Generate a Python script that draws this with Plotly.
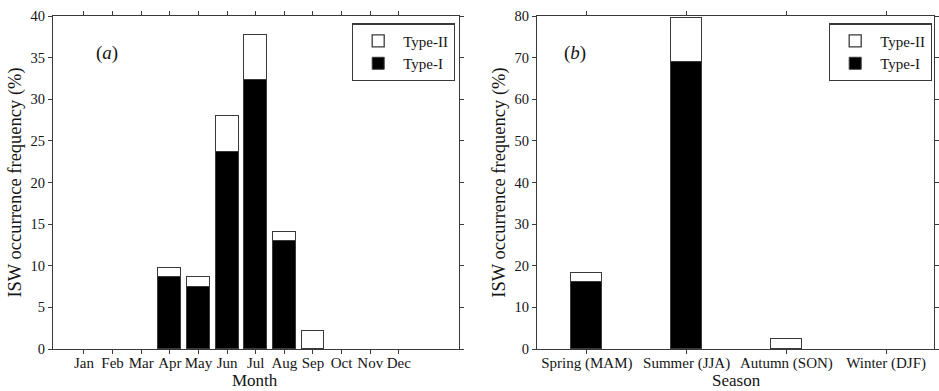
import plotly.graph_objects as go

months = ["Jan", "Feb", "Mar", "Apr", "May", "Jun", "Jul", "Aug", "Sep", "Oct", "Nov", "Dec"]
month_type1 = [0, 0, 0, 8.7, 7.5, 23.7, 32.3, 13.0, 0, 0, 0, 0]
month_type2 = [0, 0, 0, 1.0, 1.2, 4.3, 5.4, 1.0, 2.2, 0, 0, 0]

seasons = ["Spring (MAM)", "Summer (JJA)", "Autumn (SON)", "Winter (DJF)"]
season_type1 = [16.2, 69.0, 0, 0]
season_type2 = [2.1, 10.6, 2.3, 0]

FONT = "Liberation Serif"
LINE = "#3a3a3a"
TXT = "#151515"

mx = list(range(1, len(months) + 1))
sx = list(range(len(seasons)))


def nz(vals):
    # zero-height bars are not drawn in the reference
    return [v if v else None for v in vals]


fig = go.Figure()
fig.add_trace(go.Bar(x=mx, y=nz(month_type1), name="Type-I",
                     marker=dict(color="black", line=dict(color=LINE, width=1)),
                     width=0.8, xaxis="x", yaxis="y", legend="legend", legendrank=2))
fig.add_trace(go.Bar(x=mx, y=nz(month_type2), name="Type-II",
                     marker=dict(color="white", line=dict(color=LINE, width=1.3)),
                     width=0.8, xaxis="x", yaxis="y", legend="legend", legendrank=1))
fig.add_trace(go.Bar(x=sx, y=nz(season_type1), name="Type-I",
                     marker=dict(color="black", line=dict(color=LINE, width=1)),
                     width=0.31, xaxis="x2", yaxis="y2", legend="legend2", legendrank=2))
fig.add_trace(go.Bar(x=sx, y=nz(season_type2), name="Type-II",
                     marker=dict(color="white", line=dict(color=LINE, width=1.3)),
                     width=0.31, xaxis="x2", yaxis="y2", legend="legend2", legendrank=1))

W, H = 939, 391
axis_common = dict(showline=True, linecolor=LINE, linewidth=1.2, mirror="ticks", ticks="outside",
                   ticklen=4, tickcolor=LINE, showgrid=False, zeroline=False, automargin=False)
xtf = dict(family=FONT, size=15, color=TXT)
ytf = dict(family=FONT, size=14.5, color=TXT)
ttf = dict(family=FONT, size=18.5, color=TXT)
xttf = dict(family=FONT, size=17, color=TXT)

legend_common = dict(bordercolor=LINE, borderwidth=1.2, bgcolor="white", traceorder="normal",
                     font=dict(family=FONT, size=15, color=TXT), tracegroupgap=0,
                     xanchor="right", yanchor="top", itemwidth=40)

XD1 = [53 / W, 459 / W]
XD2 = [537 / W, 934 / W]

fig.update_layout(
    width=W, height=H,
    margin=dict(l=0, r=0, t=16, b=42),
    paper_bgcolor="white", plot_bgcolor="white",
    barmode="stack", bargap=0,
    showlegend=True,
    xaxis=dict(domain=XD1, range=[-0.08, 14.1], tickvals=mx, ticktext=months,
               tickfont=xtf, ticklabelstandoff=-4, **axis_common),
    yaxis=dict(domain=[0, 1], range=[0, 40], tickvals=list(range(0, 41, 5)), tickfont=ytf,
               title=dict(text="ISW occurrence frequency (%)", font=ttf, standoff=4),
               anchor="x", **axis_common),
    xaxis2=dict(domain=XD2, range=[-0.5, 3.48], tickvals=sx, ticktext=seasons,
                tickfont=xtf, ticklabelstandoff=-4, anchor="y2", **axis_common),
    yaxis2=dict(domain=[0, 1], range=[0, 80], tickvals=list(range(0, 81, 10)), tickfont=ytf,
                title=dict(text="ISW occurrence frequency (%)", font=ttf, standoff=4),
                anchor="x2", **axis_common),
    legend=dict(x=455 / W, y=0.978, **legend_common),
    legend2=dict(x=932 / W, y=0.978, **legend_common),
    annotations=[
        dict(text="Month", x=255 / W, y=-0.129, xref="paper", yref="paper", showarrow=False,
             xanchor="center", yanchor="bottom", font=xttf),
        dict(text="Season", x=736 / W, y=-0.129, xref="paper", yref="paper", showarrow=False,
             xanchor="center", yanchor="bottom", font=xttf),
        dict(text="(<i>a</i>)", x=94 / W, y=0.928, xref="paper", yref="paper", showarrow=False,
             font=dict(family=FONT, size=19, color=TXT)),
        dict(text="(<i>b</i>)", x=575 / W, y=0.928, xref="paper", yref="paper", showarrow=False,
             font=dict(family=FONT, size=19, color=TXT)),
    ],
)

fig.write_html("out.html", config={"displayModeBar": False},
               post_script="document.body.style.margin='0';")
